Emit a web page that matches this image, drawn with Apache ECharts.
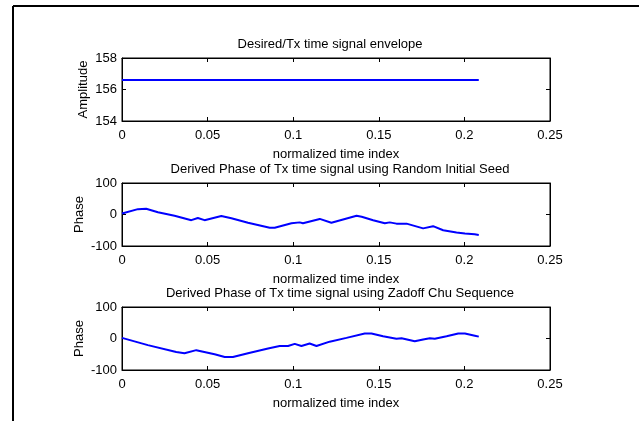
<!DOCTYPE html>
<html>
<head>
<meta charset="utf-8">
<script src="https://cdn.jsdelivr.net/npm/echarts@6/dist/echarts.min.js"></script>
<style>
html,body{margin:0;padding:0;background:#fff;}
#chart{width:639px;height:421px;}
</style>
</head>
<body>
<div id="chart"></div>
<script>
// ---- data ----
const titles = [
  'Desired/Tx time signal envelope',
  'Derived Phase of Tx time signal using Random Initial Seed',
  'Derived Phase of Tx time signal using Zadoff Chu Sequence'
];
const xName = 'normalized time index';
const yNames = ['Amplitude', 'Phase', 'Phase'];
const xTicks = [0, 0.05, 0.1, 0.15, 0.2, 0.25];
const ampTicks = [154, 156, 158];
const phaseTicks = [-100, 0, 100];

const envX = [0, 0.2084];
const envY = [156.6, 156.6];

const randX = [0, 0.0093, 0.0141, 0.021, 0.0307, 0.0405, 0.0443, 0.0482, 0.058, 0.0639, 0.0736, 0.0863, 0.0892, 0.099,
  0.1038, 0.1057, 0.1155, 0.1223, 0.137, 0.14, 0.1467, 0.1535, 0.1564, 0.1603, 0.1662, 0.1759, 0.1817, 0.1876, 0.1954, 0.2003, 0.206, 0.2084];
const randY = [3, 17, 18, 7, -4, -18, -11, -18, -5, -12, -26, -42, -42, -28,
  -25, -28, -14, -26, -4, -7, -18, -28, -25, -29, -29, -44, -37, -50, -57, -60, -63, -65];

const zcX = [0, 0.0151, 0.0317, 0.0365, 0.0434, 0.0541, 0.06, 0.0648, 0.0736, 0.0853, 0.0921, 0.097, 0.1009,
  0.1048, 0.1096, 0.1136, 0.1213, 0.1311, 0.1418, 0.1457, 0.1525, 0.1603, 0.1633, 0.171, 0.1759, 0.1798, 0.1827, 0.1896, 0.1964, 0.2003, 0.2061, 0.2084];
const zcY = [2, -21, -43, -47, -37, -50, -59, -59, -47, -32, -24, -24, -17,
  -24, -16, -24, -10, 2, 16, 16, 7, -1, 1, -9, -3, 1, -1, 7, 16, 16, 9, 6];

// ---- layout ----
const FONT = '"Liberation Sans", Arial, sans-serif';
const gridTops = [58, 183, 307];
const gridH = 63;
const L = 122, R = 550;
const titleX = [325, 335, 335];
const yNameGaps = [32, 36];

const chart = echarts.init(document.getElementById('chart'), null, {renderer: 'canvas'});

const zip = (xs, ys) => xs.map((x, i) => [x, ys[i]]);
const seriesData = [zip(envX, envY), zip(randX, randY), zip(zcX, zcY)];
const yRanges = [ampTicks, phaseTicks, phaseTicks];

const mkLine = () => ({show: true, onZero: false, lineStyle: {color: '#000', width: 1}});
const mkTick = () => ({show: true, inside: true, length: 4, lineStyle: {color: '#000', width: 1}});
const labelStyle = {color: '#000', fontSize: 13, fontFamily: FONT};

const grid = [], xAxis = [], yAxis = [], title = [], series = [];
for (let i = 0; i < 3; i++) {
  grid.push({left: L, width: R - L, top: gridTops[i], height: gridH, show: true,
    borderColor: '#000', borderWidth: 1, backgroundColor: 'transparent'});
  title.push({
    text: titles[i], left: titleX[i], top: gridTops[i] - 25, textAlign: 'center',
    textStyle: {color: '#000', fontSize: 13, fontWeight: 'normal', fontFamily: FONT}
  });
  const xt = xTicks;
  const commonX = {
    type: 'value', gridIndex: i, min: xt[0], max: xt[xt.length - 1], interval: xt[1] - xt[0],
    axisLine: mkLine(), axisTick: mkTick(), splitLine: {show: false}
  };
  xAxis.push(Object.assign({}, commonX, {
    position: 'bottom',
    axisLabel: Object.assign({margin: 8, formatter: v => String(+v.toFixed(2))}, labelStyle),
    name: xName, nameLocation: 'middle', nameGap: 27, nameMoveOverlap: false, nameTextStyle: labelStyle
  }));
  xAxis.push(Object.assign({}, commonX, {position: 'top', axisLabel: {show: false}}));
  const yt = yRanges[i];
  const commonY = {
    type: 'value', gridIndex: i, min: yt[0], max: yt[yt.length - 1], interval: yt[1] - yt[0],
    axisLine: mkLine(), axisTick: mkTick(), splitLine: {show: false}
  };
  yAxis.push(Object.assign({}, commonY, {
    position: 'left',
    axisLabel: Object.assign({margin: 5}, labelStyle),
    name: yNames[i], nameLocation: 'middle', nameGap: i === 0 ? yNameGaps[0] : yNameGaps[1],
    nameMoveOverlap: false, nameTextStyle: labelStyle
  }));
  yAxis.push(Object.assign({}, commonY, {position: 'right', axisLabel: {show: false}}));
  series.push({
    type: 'line', xAxisIndex: 2 * i, yAxisIndex: 2 * i, data: seriesData[i],
    showSymbol: false, symbol: 'none', smooth: false,
    lineStyle: {color: '#0000ff', width: 2}, itemStyle: {color: '#0000ff'}
  });
}

chart.setOption({
  animation: false,
  backgroundColor: '#fff',
  title, grid, xAxis, yAxis, series,
  graphic: [
    {type: 'line', shape: {x1: 13, y1: 6, x2: 639, y2: 6}, style: {stroke: '#000', lineWidth: 2}},
    {type: 'line', shape: {x1: 13, y1: 6, x2: 13, y2: 421}, style: {stroke: '#000', lineWidth: 2}}
  ]
});
</script>
</body>
</html>
